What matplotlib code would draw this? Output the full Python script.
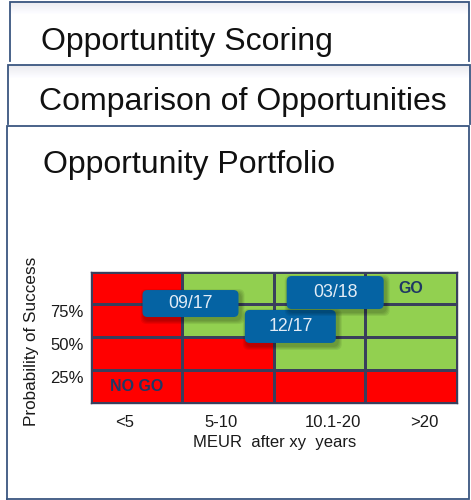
import numpy as np
import matplotlib.pyplot as plt
from matplotlib.colors import ListedColormap
from matplotlib.patches import FancyBboxPatch
from matplotlib.transforms import ScaledTranslation

plt.rcParams['font.family'] = ['Liberation Sans', 'DejaVu Sans']

# =========================
# DATA
# =========================
size_labels = ['<5', '5-10', '10.1-20', '>20']
prob_edges = [0, 25, 50, 75, 100]
prob_ticks = [25, 50, 75]
prob_labels = ['25%', '50%', '75%']

# 1 = GO (green), 0 = NO GO (red), rows from low to high probability
go_matrix = [
    [0, 0, 0, 0],
    [0, 0, 1, 1],
    [0, 1, 1, 1],
    [0, 1, 1, 1],
]

opp_labels = ['09/17', '12/17', '03/18']
opp_size = [1.09, 2.18, 2.67]     # position on the size axis (column units)
opp_prob = [75.7, 58.2, 84.1]     # probability of success in %

# =========================
# STYLE
# =========================
RED = '#ff0000'
GREEN = '#92d050'
GRID = '#3a3f5c'
NAVY = '#1f3864'
BUBBLE = '#0563a3'
BORDER = '#3a5680'

box_px = [(96, 27), (91, 33), (97, 33)]
xlabel_shift = [-12, -7, 13, 13]

W, H = 471, 500
fig = plt.figure(figsize=(W / 100, H / 100), dpi=100)

# background layer in pixel coordinates
bg = fig.add_axes([0, 0, 1, 1])
bg.axis('off')


def card(x0, y0, x1, y1, closed=False, shade=True):
    bg.fill([x0, x1, x1, x0], [y0, y0, y1, y1], color='white', zorder=1)
    if shade:
        grad = np.linspace(0.92, 1.0, 14)[:, None, None] * np.ones((14, 1, 3))
        grad[..., 2] = np.minimum(grad[..., 2] + 0.015, 1)
        bg.imshow(grad, extent=(x0, x1, y0 + 14, y0), aspect='auto',
                  origin='upper', zorder=1.5)
    xs = [x0, x0, x1, x1]
    ys = [y1, y0, y0, y1]
    if closed:
        xs.append(x0)
        ys.append(y1)
    bg.plot(xs, ys, color=BORDER, lw=1.3, zorder=2, solid_joinstyle='miter')


card(10, 1.5, 469, 61)
card(8, 65, 470, 124)
card(7, 126, 469, 498.5, closed=True, shade=False)

bg.text(41, 50, 'Opportuntity Scoring', fontsize=23, color='#111111', zorder=3)
bg.text(39, 110, 'Comparison of Opportunities', fontsize=23, color='#111111', zorder=3)
bg.text(43, 173, 'Opportunity Portfolio', fontsize=23, color='#111111', zorder=3)

bg.set_xlim(0, W)
bg.set_ylim(H, 0)

# =========================
# PORTFOLIO MATRIX
# =========================
ax = fig.add_axes([90.7 / W, 1 - 402.7 / H, 366.3 / W, 131 / H])
ax.pcolormesh(np.arange(len(size_labels) + 1), prob_edges, np.array(go_matrix),
              cmap=ListedColormap([RED, GREEN]), vmin=0, vmax=1,
              edgecolors=GRID, linewidth=1.0)
ax.set_xlim(0, len(size_labels))
ax.set_ylim(0, 100)
for s in ax.spines.values():
    s.set_color(GRID)
    s.set_linewidth(1.0)

ax.set_xticks(np.arange(len(size_labels)) + 0.5, size_labels)
ax.set_yticks(prob_ticks, prob_labels)
ax.tick_params(length=0, labelsize=12, labelcolor='#1a1a1a')
ax.tick_params(axis='x', pad=9)
ax.tick_params(axis='y', pad=5)

ax.set_xlabel('MEUR  after xy  years', fontsize=12, color='#1a1a1a')
ax.xaxis.set_label_coords(0.503, -0.245)
ax.set_ylabel('Probability of Success', fontsize=12.3, color='#1a1a1a')
ax.yaxis.set_label_coords(-0.142, 0.47)

ax.text(3.5, 86.8, 'GO', ha='center', va='center', fontsize=11.5,
        fontweight='bold', color=NAVY)
ax.text(0.5, 12.7, 'NO GO', ha='center', va='center', fontsize=11.5,
        fontweight='bold', color=NAVY)

for lbl, dx in zip(ax.get_xticklabels(), xlabel_shift):
    lbl.set_transform(lbl.get_transform() + ScaledTranslation(dx / 100, 0, fig.dpi_scale_trans))
for lbl in ax.get_yticklabels():
    lbl.set_transform(lbl.get_transform() + ScaledTranslation(0, -7 / 100, fig.dpi_scale_trans))

# =========================
# OPPORTUNITY BUBBLES
# =========================
top = fig.add_axes([0, 0, 1, 1])
top.axis('off')
top.set_xlim(0, W)
top.set_ylim(H, 0)
top.patch.set_alpha(0)

to_px = ax.transData + top.transData.inverted()
for lab, sx, sp, (bw, bh) in zip(opp_labels, opp_size, opp_prob, box_px):
    cx, cy = to_px.transform((sx, sp))
    for k in range(4):
        g = 1 + k
        top.add_patch(FancyBboxPatch((cx - bw / 2 + 2 - g, cy - bh / 2 + 3 - g), bw + 2 * g, bh + 2 * g,
                                     boxstyle='round,pad=0,rounding_size=6',
                                     fc='black', ec='none', alpha=0.07))
    top.add_patch(FancyBboxPatch((cx - bw / 2, cy - bh / 2), bw, bh,
                                 boxstyle='round,pad=0,rounding_size=5',
                                 fc=BUBBLE, ec='none'))
    top.text(cx, cy, lab, ha='center', va='center', fontsize=12.8, color='#e2ecf6')

fig.savefig('out.png', dpi=100)
